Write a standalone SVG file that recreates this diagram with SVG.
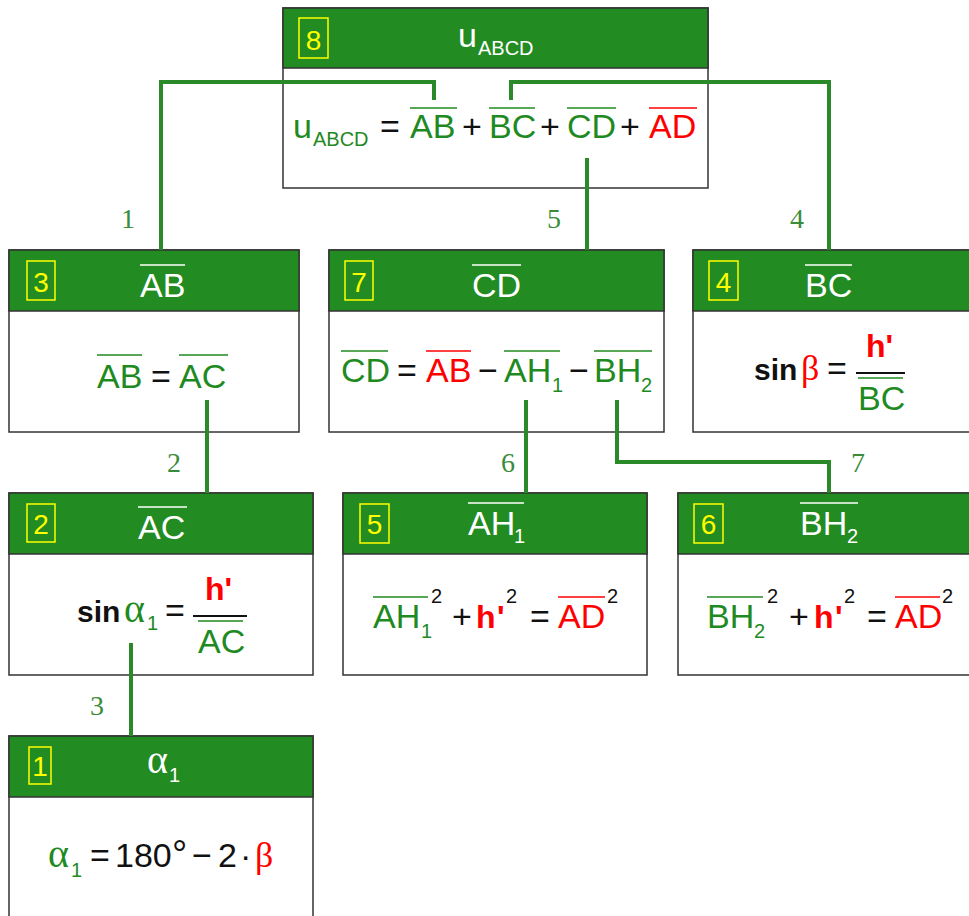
<svg xmlns="http://www.w3.org/2000/svg" width="969" height="916" viewBox="0 0 969 916">
<style>
.box{fill:#fff;stroke:#333;stroke-width:1.5}
.hdr{fill:#228B22;stroke:#333;stroke-width:1.5}
.num{fill:none;stroke:#ffff00;stroke-width:1.5}
.numt{fill:#ffff00;font-family:"Liberation Sans",Arial,sans-serif;font-size:28px;text-anchor:middle}
text{font-family:"Liberation Sans",Arial,sans-serif;font-size:34px}
.w{fill:#fff}
.g{fill:#1f8a1f}
.r{fill:#ff0000}
.k{fill:#111}
.sub{font-size:20px}
.gr{font-family:"Liberation Serif","Times New Roman",serif;font-size:40px}
.beta{font-size:36px}
.b{font-weight:bold}
.ow{stroke:#fff;stroke-width:1.6}
.og{stroke:#1f8a1f;stroke-width:1.6}
.or{stroke:#ff0000;stroke-width:1.6}
.bar{stroke:#111;stroke-width:2}
.conn{fill:none;stroke:#2a8a2a;stroke-width:4}
.lbl{font-family:"Liberation Serif","Times New Roman",serif;font-size:28px;fill:#3a8c3a;text-anchor:middle}
</style>

<g id="node8">
<rect class="box" x="283" y="8" width="425" height="180"/>
<rect class="hdr" x="283" y="8" width="425" height="60"/>
<rect class="num" x="299" y="18" width="29" height="40"/>
<text class="numt" x="313.5" y="50">8</text>
<text class="w" x="458" y="47">u</text><text class="w sub" x="478" y="55">ABCD</text>
<text class="g" x="293" y="138">u</text><text class="g sub" x="313" y="146">ABCD</text>
<text class="k" x="380" y="138">=</text>
<text class="g" x="410" y="138">AB</text><line class="og" x1="410" y1="108" x2="457" y2="108"/>
<text class="k" x="462" y="138">+</text>
<text class="g" x="489" y="138">BC</text><line class="og" x1="489" y1="108" x2="535" y2="108"/>
<text class="k" x="540" y="138">+</text>
<text class="g" x="567" y="138">CD</text><line class="og" x1="567" y1="108" x2="616" y2="108"/>
<text class="k" x="620" y="138">+</text>
<text class="r" x="649" y="138">AD</text><line class="or" x1="649" y1="108" x2="697" y2="108"/>
</g>

<g id="node3">
<rect class="box" x="9" y="250" width="290" height="182"/>
<rect class="hdr" x="9" y="250" width="290" height="61"/>
<rect class="num" x="27" y="261" width="28" height="39"/>
<text class="numt" x="41" y="292">3</text>
<text class="w" x="140" y="297">AB</text><line class="ow" x1="140" y1="265" x2="185" y2="265"/>
<text class="g" x="97" y="388">AB</text><line class="og" x1="97" y1="355" x2="142" y2="355"/>
<text class="k" x="151" y="388">=</text>
<text class="g" x="179" y="388">AC</text><line class="og" x1="179" y1="355" x2="228" y2="355"/>
</g>

<g id="node7">
<rect class="box" x="329" y="250" width="335" height="182"/>
<rect class="hdr" x="329" y="250" width="335" height="61"/>
<rect class="num" x="345" y="261" width="28" height="39"/>
<text class="numt" x="359" y="292">7</text>
<text class="w" x="472" y="297">CD</text><line class="ow" x1="472" y1="265" x2="521" y2="265"/>
<text class="g" x="341" y="382">CD</text><line class="og" x1="341" y1="351" x2="388" y2="351"/>
<text class="k" x="397" y="382">=</text>
<text class="r" x="426" y="382">AB</text><line class="or" x1="426" y1="351" x2="471" y2="351"/>
<text class="k" x="478" y="382">−</text>
<text class="g" x="504" y="382">AH</text><text class="g sub" x="552" y="392">1</text><line class="og" x1="504" y1="351" x2="560" y2="351"/>
<text class="k" x="569" y="382">−</text>
<text class="g" x="594" y="382">BH</text><text class="g sub" x="641" y="392">2</text><line class="og" x1="594" y1="351" x2="652" y2="351"/>
</g>

<g id="node4">
<rect class="box" x="693" y="250" width="290" height="182"/>
<rect class="hdr" x="693" y="250" width="290" height="61"/>
<rect class="num" x="709" y="261" width="29" height="39"/>
<text class="numt" x="723.5" y="292">4</text>
<text class="w" x="805" y="297">BC</text><line class="ow" x1="805" y1="265" x2="852" y2="265"/>
<text class="k b" x="754" y="380" style="font-size:30px">sin</text>
<text class="r gr beta" x="801" y="380">β</text>
<text class="k" x="827" y="380">=</text>
<text class="r b" x="866" y="357" style="font-size:32px">h'</text>
<line class="bar" x1="856" y1="373" x2="905" y2="373"/>
<text class="g" x="858" y="410">BC</text><line class="og" x1="858" y1="378" x2="903" y2="378"/>
</g>

<g id="node2">
<rect class="box" x="9" y="493" width="304" height="182"/>
<rect class="hdr" x="9" y="493" width="304" height="61"/>
<rect class="num" x="27" y="504" width="28" height="38"/>
<text class="numt" x="41" y="534">2</text>
<text class="w" x="138" y="539">AC</text><line class="ow" x1="138" y1="507" x2="187" y2="507"/>
<text class="k b" x="77" y="622" style="font-size:30px">sin</text>
<text class="g gr" x="124" y="622">α</text><text class="g sub" x="147" y="630">1</text>
<text class="k" x="165" y="622">=</text>
<text class="r b" x="205" y="600" style="font-size:32px">h'</text>
<line class="bar" x1="193" y1="616" x2="247" y2="616"/>
<text class="g" x="198" y="653">AC</text><line class="og" x1="198" y1="621" x2="243" y2="621"/>
</g>

<g id="node5">
<rect class="box" x="343" y="493" width="304" height="182"/>
<rect class="hdr" x="343" y="493" width="304" height="61"/>
<rect class="num" x="360" y="504" width="29" height="39"/>
<text class="numt" x="374.5" y="534">5</text>
<text class="w" x="468" y="535">AH</text><text class="w sub" x="514" y="543">1</text><line class="ow" x1="468" y1="503" x2="524" y2="503"/>
<text class="g" x="373" y="628">AH</text><text class="g sub" x="421" y="638">1</text><line class="og" x1="373" y1="597" x2="428" y2="597"/>
<text class="k sub" x="431" y="603">2</text>
<text class="k" x="452" y="628">+</text>
<text class="r b" x="476" y="628" style="font-size:32px">h</text><text class="r b" x="497" y="628" style="font-size:32px">'</text>
<text class="k sub" x="506" y="603">2</text>
<text class="k" x="530" y="628">=</text>
<text class="r" x="558" y="628">AD</text><line class="or" x1="558" y1="597" x2="605" y2="597"/>
<text class="k sub" x="607" y="603">2</text>
</g>

<g id="node6">
<rect class="box" x="678" y="493" width="300" height="182"/>
<rect class="hdr" x="678" y="493" width="300" height="61"/>
<rect class="num" x="694" y="504" width="29" height="39"/>
<text class="numt" x="708.5" y="534">6</text>
<text class="w" x="800" y="535">BH</text><text class="w sub" x="847" y="543">2</text><line class="ow" x1="800" y1="503" x2="858" y2="503"/>
<text class="g" x="707" y="628">BH</text><text class="g sub" x="754" y="638">2</text><line class="og" x1="707" y1="597" x2="763" y2="597"/>
<text class="k sub" x="767" y="603">2</text>
<text class="k" x="789" y="628">+</text>
<text class="r b" x="814" y="628" style="font-size:32px">h</text><text class="r b" x="835" y="628" style="font-size:32px">'</text>
<text class="k sub" x="844" y="603">2</text>
<text class="k" x="867" y="628">=</text>
<text class="r" x="895" y="628">AD</text><line class="or" x1="895" y1="597" x2="940" y2="597"/>
<text class="k sub" x="942" y="603">2</text>
</g>

<g id="node1">
<rect class="box" x="9" y="736" width="304" height="200"/>
<rect class="hdr" x="9" y="736" width="304" height="61"/>
<rect class="num" x="29" y="747" width="22" height="37"/>
<text class="numt" x="40" y="776">1</text>
<text class="w gr" x="147" y="773">α</text><text class="w sub" x="169" y="782">1</text>
<text class="g gr" x="48" y="867">α</text><text class="g sub" x="71" y="877">1</text>
<text class="k" x="90" y="867">=</text>
<text class="k" x="115" y="867">180</text>
<text class="k" x="172" y="867" style="font-size:38px">°</text>
<text class="k" x="192" y="867">−</text>
<text class="k" x="218" y="867">2</text>
<text class="k" x="240" y="867">·</text>
<text class="r gr beta" x="255" y="867">β</text>
</g>

<g id="connectors">
<path class="conn" d="M161,250 V82 H434 V100"/>
<path class="conn" d="M829,250 V82 H511 V100"/>
<path class="conn" d="M587,158 V250"/>
<path class="conn" d="M207,400 V493"/>
<path class="conn" d="M131,643 V736"/>
<path class="conn" d="M526,400 V493"/>
<path class="conn" d="M617,400 V462 H829 V493"/>
<text class="lbl" x="128" y="228">1</text>
<text class="lbl" x="554" y="228">5</text>
<text class="lbl" x="797" y="228">4</text>
<text class="lbl" x="174" y="472">2</text>
<text class="lbl" x="508" y="472">6</text>
<text class="lbl" x="858" y="472">7</text>
<text class="lbl" x="97" y="715">3</text>
</g>
</svg>
